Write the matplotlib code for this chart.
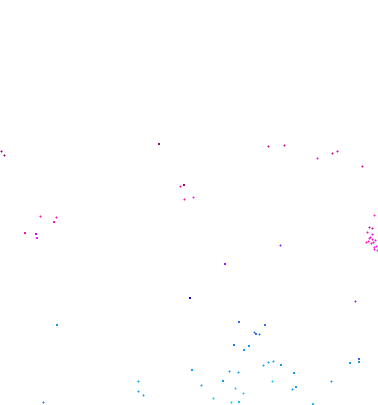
import matplotlib
matplotlib.use("Agg")
import matplotlib.pyplot as plt

# point positions (pixel-like units, y grows downwards)
x_pos = [1, 4, 159, 180, 184, 184, 193, 40, 56, 54, 25, 36, 37,
         268, 284, 317, 332, 337, 362, 374, 369, 372,
         367, 372, 369, 372, 370, 366, 371, 375, 376, 374, 374, 377, 368, 373,
         280, 225, 190, 355,
         239, 265, 254, 256, 259, 234, 249, 244, 192, 229, 238,
         263, 268, 273, 281, 294, 359, 350, 359, 223, 201, 235, 272,
         296, 292, 331, 243, 213, 231, 239, 313,
         57, 138, 138, 143, 43]
y_pos = [152, 156, 145, 187, 186, 200, 198, 217, 218, 223, 234, 235, 239,
         147, 146, 159, 154, 152, 167, 216, 228, 229,
         233, 235, 239, 240, 238, 243, 244, 241, 247, 248, 250, 251, 242, 243,
         246, 265, 299, 302,
         323, 326, 333, 335, 335, 346, 347, 351, 371, 372, 373,
         366, 363, 362, 366, 374, 360, 364, 363, 382, 386, 389, 382,
         388, 390, 382, 394, 399, 403, 403, 405,
         326, 382, 392, 396, 403]
shape = ["+", "+", "s", "+", "s", "+", "+", "+", "+", "s", "s", "s", "s",
         "+", "+", "+", "+", "+", "+", "+", "+", "+",
         "+", "+", "+", "+", "+", "+", "+", "+", "+", "+", "+", "+", "+", "+",
         "+", "s", "s", "+",
         "s", "s", "+", "s", "+", "s", "s", "s", "s", "+", "+",
         "+", "+", "+", "s", "s", "s", "s", "s", "s", "+", "+", "+",
         "s", "+", "+", "+", "+", "+", "s", "s",
         "s", "+", "+", "+", "+"]
group = ["wine", "wine", "wine", "pink", "wine", "pink", "magenta", "pink", "pink",
         "pink", "pink", "violet", "magenta",
         "rose", "rose", "pink", "rose", "rose", "rose", "magenta", "rose", "rose",
         "pink", "pink", "magenta", "pink", "pink", "pink", "pink", "magenta",
         "magenta", "magenta", "pink", "magenta", "pink", "pink",
         "violet", "violet", "navy", "violet",
         "blue", "blue", "blue", "blue", "blue", "blue", "azure", "azure", "azure",
         "azure", "azure",
         "azure", "azure", "azure", "azure", "azure", "blue", "azure", "azure",
         "azure", "azure", "cyan", "cyan",
         "azure", "azure", "azure", "cyan", "cyan", "cyan", "cyan", "cyan",
         "azure", "azure", "azure", "azure", "blue"]

palette = {
    "wine": "#9a0a70", "rose": "#c8109a", "pink": "#ff10c0",
    "magenta": "#f020f0", "violet": "#9a20f0", "navy": "#0a0ac8",
    "blue": "#3070f0", "azure": "#10a0f0", "cyan": "#10c8f0",
}

fig = plt.figure(figsize=(3.78, 4.06), dpi=100)
ax = fig.add_axes([0, 0, 1, 1])

for xv, yv, m, g in zip(x_pos, y_pos, shape, group):
    c = palette[g]
    if m == "+":
        ax.plot(xv, yv, marker="+", color=c, markersize=1.8,
                markeredgewidth=0.75, linestyle="none", antialiased=False)
    else:
        ax.plot(xv, yv, marker="s", color=c, markersize=1.5,
                markeredgewidth=0, linestyle="none")

ax.set_xlim(0, 378)
ax.set_ylim(406, 0)
ax.axis("off")

fig.savefig("out.png", dpi=100)
